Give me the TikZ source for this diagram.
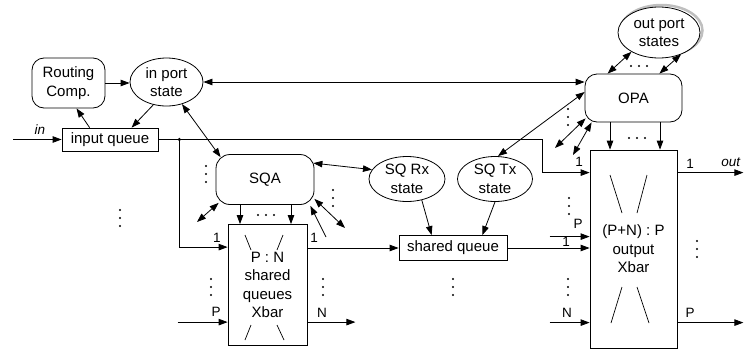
\documentclass[tikz,border=0pt]{standalone}
\usepackage{fontspec}
\setmainfont{Liberation Sans}
\usetikzlibrary{arrows.meta,shapes.geometric,calc}
\begin{document}
\begin{tikzpicture}[x=1pt,y=-1pt,
  >={Triangle[length=9pt,width=6.5pt]},
  line width=0.8pt,
  box/.style={draw, inner sep=0pt, font=\fontsize{15}{18.5}\selectfont, align=center},
  rbox/.style={box, rounded corners=12pt},
  ell/.style={box, ellipse},
  lab/.style={font=\fontsize{13.5}{14}\selectfont, inner sep=0pt},
  vdots/.pic={\foreach \k in {0,8,16} \fill (0,\k) circle (1.1);},
  hdots/.pic={\foreach \k in {0,8,16} \fill (\k,0) circle (1.1);}]
\useasboundingbox (0,0) rectangle (744,351);

% nodes
\node[rbox, minimum width=73pt, minimum height=50pt] (rc) at (68.5,83) {Routing\\Comp.};
\node[ell, minimum width=73pt, minimum height=48pt] (ips) at (166.5,82) {in port\\state};
\node[box, minimum width=96pt, minimum height=23pt] (iq) at (110,139.5) {input queue};
\node[rbox, rounded corners=14pt, minimum width=98pt, minimum height=50pt] (sqa) at (265,179.5) {SQA};
\node[box, minimum width=79pt, minimum height=121pt] (sqx) at (267.5,285) {P : N\\shared\\queues\\Xbar};
\node[ell, minimum width=76pt, minimum height=45pt] (rx) at (407,179) {SQ Rx\\state};
\node[ell, minimum width=75pt, minimum height=45pt] (tx) at (495,179) {SQ Tx\\state};
\node[box, minimum width=108pt, minimum height=25pt] (sq) at (453,248) {shared queue};
\node[rbox, minimum width=97pt, minimum height=48pt] (opa) at (633.5,98) {OPA};
\node[ell, draw=gray!50, line width=2.5pt, minimum width=82pt, minimum height=51pt] (opsh) at (661.5,30.5) {};
\node[ell, fill=white, minimum width=82pt, minimum height=51pt] (ops) at (659,32.5) {out port\\states};
\node[box, minimum width=87pt, minimum height=198pt] (ox) at (633.5,249) {(P+N) : P\\output\\Xbar};

% port coordinates
\coordinate (inL) at (13,139.5);
\coordinate (sx1) at ($(sqx.north west)+(0,23)$);
\coordinate (sxP) at ($(sqx.north west)+(0,98)$);
\coordinate (ox1) at ($(ox.north west)+(0,23)$);
\coordinate (oxP) at ($(ox.north west)+(0,87)$);
\coordinate (oxN) at ($(ox.north west)+(0,173)$);
\coordinate (oo1) at ($(ox.north east)+(0,23)$);
\coordinate (ooP) at ($(ox.north east)+(0,173)$);
\coordinate (j) at ($(iq.east)+(21,0)$);

% input side
\draw[->] (inL) -- (iq.west);
\node[lab, font=\fontsize{13.5}{14}\selectfont\itshape] (inlab) at (40,130) {in};
\draw[->] (rc.east) -- (rc.east -| ips.west);
\draw[<->] (ips.east) -- (ips.east -| opa.west);
\draw[->] ($(iq.north west)+(28,0)$) -- ($(rc.south)+(8,0)$);
\draw[->] (ips.240) -- ($(iq.north west)+(70,0)$);
\draw[<->] (ips.305) -- ($(sqa.north west)+(5,3)$);

\draw[->] (iq.east) -| ($(ox1)+(-47,0)$) -- (ox1);
\fill (j) circle (1.8);
\draw[->] (j) |- (sx1);
\draw[->] ($(sxP)+(-50,0)$) -- (sxP);

% SQA
\coordinate (sqaBL) at (197,222);
\coordinate (sqaBR1) at (326,237);
\coordinate (sqaBR2) at (345,228);
\draw[<->] ($(sqa.south west)+(3,-2)$) -- (sqaBL);
\draw[->] (sqaBR1) -- ($(sqa.south east)+(-4,1)$);
\draw[<->] ($(sqa.south east)+(0,-6)$) -- (sqaBR2);
\draw[<->] ($(sqa.north east)+(-1,9)$) -- (rx.165);
\coordinate (a1) at ($(sqa.south)+(-25,0)$);
\coordinate (a2) at ($(sqa.south)+(26,0)$);
\draw[->] (a1) -- (a1 |- sqx.north);
\draw[->] (a2) -- (a2 |- sqx.north);

% SQ Xbar outputs
\draw[->] (sqx.east |- sq.west) -- (sq.west);
\draw[->] (sqx.east |- sxP) -- ($(sqx.east |- sxP)+(48,0)$);

% state -> shared queue
\draw[->] (rx.305) -- ($(sq.north west)+(33,0)$);
\draw[->] (tx.south) -- ($(sq.north east)+(-25,0)$);
\draw[->] (sq.east) -- (sq.east -| ox.west);

% OPA
\draw[<->] ($(opa.west)+(0,-6)$) -- ($(tx.north)+(3,0)$);
\coordinate (opBL1) at (555,148);
\coordinate (opBL2) at (573,155);
\draw[<->] ($(opa.south west)+(1,-4)$) -- (opBL1);
\draw[<->] ($(opa.south west)+(7,0)$) -- (opBL2);
\coordinate (b1) at ($(opa.south)+(-23.5,0)$);
\coordinate (b2) at ($(opa.south)+(26.5,0)$);
\draw[->] (b1) -- (b1 |- ox.north);
\draw[->] (b2) -- (b2 |- ox.north);
\draw[<->] ($(opa.north west)+(23,0)$) -- (ops.215);
\draw[<->] ($(opa.north east)+(-23,0)$) -- (ops.315);

% output Xbar ports
\draw[->] ($(oxP)+(-40,0)$) -- (oxP);
\draw[->] ($(oxN)+(-40,0)$) -- (oxN);
\draw[->] (oo1) -- ($(oo1)+(66,0)$);
\draw[->] (ooP) -- ($(ooP)+(66,0)$);

% crossbar strokes
\draw[line width=0.7pt] (245,235) -- (251,250) (283,235) -- (277,250)
  (251,325) -- (245,340) (277,325) -- (284,340);
\draw[line width=0.7pt] (610,175) -- (622,213) (647,175) -- (637,213)
  (622,287) -- (611,323) (637,287) -- (649,323);

% labels
\node[lab] (l1) at (217,238) {1};
\node[lab] (l2) at (216,312) {P};
\node[lab] (l3) at (314,238) {1};
\node[lab] (l4) at (322,313) {N};
\node[lab] (l5) at (579,162) {1};
\node[lab] (l6) at (578,224) {P};
\node[lab] (l7) at (566,242) {1};
\node[lab] (l8) at (567,313) {N};
\node[lab] (l9) at (690,164) {1};
\node[lab] (l10) at (690,313) {P};
\node[lab, anchor=west, font=\fontsize{13.5}{14}\selectfont\itshape] (l11) at (721,162) {out};

% dots
\pic at (120,210) {vdots};
\pic at (206,166) {vdots};
\pic at (211,279) {vdots};
\pic at (323,279) {vdots};
\pic at (333,190) {vdots};
\pic at (453,279) {vdots};
\pic at (568,279) {vdots};
\pic at (569,198) {vdots};
\pic at (697,241) {vdots};
\pic at (568,109) {vdots};
\pic at (258,215) {hdots};
\pic at (629,138) {hdots};
\pic at (631,66) {hdots};
\end{tikzpicture}
\end{document}
